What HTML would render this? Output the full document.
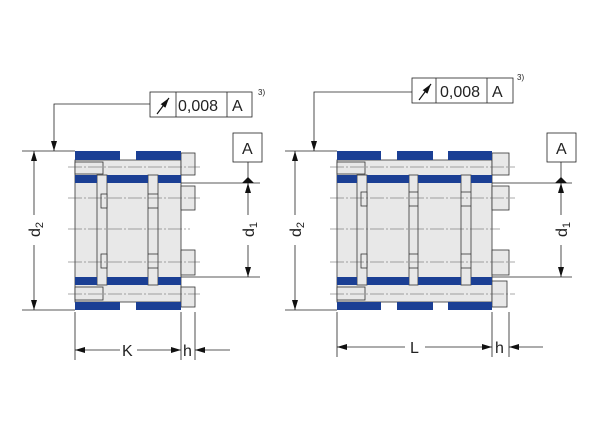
<!DOCTYPE html>
<html><head><meta charset="utf-8"><style>
html,body{margin:0;padding:0;background:#fff}
svg{display:block}
text{font-family:"Liberation Sans",sans-serif;fill:#222}
</style></head><body>
<svg width="600" height="440" viewBox="0 0 600 440" xmlns="http://www.w3.org/2000/svg">
<defs>
<marker id="ar" viewBox="0 0 10 6" refX="10" refY="3" markerWidth="10" markerHeight="6" markerUnits="userSpaceOnUse" orient="auto"><path d="M0,0 L10,3 L0,6z" fill="#111"/></marker>
</defs>
<g stroke="#333" stroke-width="0.8" fill="#e8e8e8">
<!-- LEFT -->
<rect x="75" y="160" width="106" height="142"/>
<rect x="181" y="153" width="14" height="22"/><rect x="181" y="186" width="14" height="24"/>
<rect x="181" y="250" width="14" height="25"/><rect x="181" y="287" width="14" height="20"/>
<rect x="75" y="162" width="28" height="12"/><rect x="75" y="287" width="28" height="13"/>
<rect x="97" y="175" width="10" height="110"/><rect x="148" y="175" width="10" height="110"/>
<rect x="101" y="194" width="6" height="14"/><rect x="101" y="254" width="6" height="14"/>
<line x1="148" y1="194" x2="158" y2="194"/><line x1="148" y1="208" x2="158" y2="208"/>
<line x1="148" y1="254" x2="158" y2="254"/><line x1="148" y1="268" x2="158" y2="268"/>
<!-- RIGHT -->
<rect x="337" y="160" width="155" height="142"/>
<rect x="492" y="153" width="17" height="22"/><rect x="492" y="186" width="17" height="24"/>
<rect x="492" y="250" width="17" height="25"/><rect x="492" y="281" width="15" height="26"/>
<rect x="337" y="162" width="28" height="12"/><rect x="337" y="287" width="28" height="13"/>
<rect x="357" y="175" width="10" height="110"/><rect x="409" y="175" width="9" height="110"/><rect x="461" y="175" width="10" height="110"/>
<rect x="361" y="192" width="6" height="14"/><rect x="361" y="254" width="6" height="14"/>
<line x1="409" y1="192" x2="418" y2="192"/><line x1="409" y1="206" x2="418" y2="206"/>
<line x1="409" y1="254" x2="418" y2="254"/><line x1="409" y1="268" x2="418" y2="268"/>
<line x1="461" y1="192" x2="471" y2="192"/><line x1="461" y1="206" x2="471" y2="206"/>
<line x1="461" y1="254" x2="471" y2="254"/><line x1="461" y1="268" x2="471" y2="268"/>
</g>
<g fill="#1b3f94">
<rect x="75" y="151" width="45" height="9"/><rect x="136" y="151" width="45" height="9"/>
<rect x="75" y="302" width="45" height="8"/><rect x="136" y="302" width="45" height="8"/>
<rect x="75" y="175" width="22" height="8"/><rect x="107" y="175" width="41" height="8"/><rect x="158" y="175" width="23" height="8"/>
<rect x="75" y="277" width="22" height="8"/><rect x="107" y="277" width="41" height="8"/><rect x="158" y="277" width="23" height="8"/>
<rect x="337" y="151" width="44" height="9"/><rect x="397" y="151" width="36" height="9"/><rect x="448" y="151" width="44" height="9"/>
<rect x="337" y="302" width="44" height="8"/><rect x="397" y="302" width="36" height="8"/><rect x="448" y="302" width="44" height="8"/>
<rect x="337" y="175" width="20" height="8"/><rect x="367" y="175" width="42" height="8"/><rect x="418" y="175" width="43" height="8"/><rect x="471" y="175" width="21" height="8"/>
<rect x="337" y="277" width="20" height="8"/><rect x="367" y="277" width="42" height="8"/><rect x="418" y="277" width="43" height="8"/><rect x="471" y="277" width="21" height="8"/>
</g>
<g stroke="#555" stroke-width="0.6" stroke-dasharray="14,2,2,2">
<line x1="68" y1="167" x2="200" y2="167"/><line x1="68" y1="198" x2="200" y2="198"/><line x1="68" y1="229" x2="190" y2="229"/><line x1="68" y1="262" x2="200" y2="262"/><line x1="68" y1="294" x2="200" y2="294"/>
<line x1="330" y1="167" x2="515" y2="167"/><line x1="330" y1="198" x2="515" y2="198"/><line x1="330" y1="229" x2="500" y2="229"/><line x1="330" y1="262" x2="515" y2="262"/><line x1="330" y1="294" x2="515" y2="294"/>
</g>
<g stroke="#222" stroke-width="0.8" fill="none">
<!-- left dims -->
<line x1="22" y1="151" x2="75" y2="151"/><line x1="22" y1="310" x2="75" y2="310"/>
<line x1="34" y1="215" x2="34" y2="151" marker-end="url(#ar)"/><line x1="34" y1="245" x2="34" y2="310" marker-end="url(#ar)"/>
<line x1="181" y1="183" x2="260" y2="183"/><line x1="181" y1="277" x2="260" y2="277"/>
<line x1="248" y1="215" x2="248" y2="183" marker-end="url(#ar)"/><line x1="248" y1="245" x2="248" y2="277" marker-end="url(#ar)"/>
<line x1="248" y1="162" x2="248" y2="178"/>
<rect x="233" y="133" width="29" height="29" fill="#fff"/>
<rect x="150" y="92" width="102" height="25" fill="#fff"/><line x1="176" y1="92" x2="176" y2="117"/><line x1="227" y1="92" x2="227" y2="117"/>
<polyline points="150,104 54,104 54,151" marker-end="url(#ar)"/>
<line x1="75" y1="312" x2="75" y2="360"/><line x1="181" y1="312" x2="181" y2="360"/><line x1="195" y1="312" x2="195" y2="360"/>
<line x1="120" y1="350" x2="75" y2="350" marker-end="url(#ar)"/><line x1="137" y1="350" x2="181" y2="350" marker-end="url(#ar)"/>
<line x1="230" y1="350" x2="195" y2="350" marker-end="url(#ar)"/>
<!-- right dims -->
<line x1="285" y1="151" x2="337" y2="151"/><line x1="285" y1="310" x2="337" y2="310"/>
<line x1="295" y1="215" x2="295" y2="151" marker-end="url(#ar)"/><line x1="295" y1="245" x2="295" y2="310" marker-end="url(#ar)"/>
<line x1="492" y1="183" x2="572" y2="183"/><line x1="492" y1="277" x2="572" y2="277"/>
<line x1="561" y1="215" x2="561" y2="183" marker-end="url(#ar)"/><line x1="561" y1="245" x2="561" y2="277" marker-end="url(#ar)"/>
<line x1="561" y1="162" x2="561" y2="178"/>
<rect x="547" y="133" width="29" height="29" fill="#fff"/>
<rect x="412" y="78" width="101" height="25" fill="#fff"/><line x1="436" y1="78" x2="436" y2="103"/><line x1="487" y1="78" x2="487" y2="103"/>
<polyline points="412,92 314,92 314,151" marker-end="url(#ar)"/>
<line x1="337" y1="312" x2="337" y2="357"/><line x1="492" y1="312" x2="492" y2="357"/><line x1="509" y1="312" x2="509" y2="357"/>
<line x1="405" y1="347" x2="337" y2="347" marker-end="url(#ar)"/><line x1="425" y1="347" x2="492" y2="347" marker-end="url(#ar)"/>
<line x1="543" y1="347" x2="509" y2="347" marker-end="url(#ar)"/>
</g>
<path d="M242,183 L248,177 L254,183z" fill="#111"/><path d="M555,183 L561,177 L567,183z" fill="#111"/>
<!-- tolerance arrows -->
<g stroke="#111" stroke-width="1.2"><line x1="157" y1="114" x2="169" y2="98" marker-end="url(#ar)"/><line x1="419" y1="100" x2="431" y2="84" marker-end="url(#ar)"/></g>
<g font-size="16">
<text x="178" y="111">0,008</text><text x="232" y="111">A</text>
<text x="440" y="97">0,008</text><text x="492" y="97">A</text>
<text x="242" y="154">A</text><text x="556" y="154">A</text>
<text x="122" y="356">K</text><text x="183" y="356">h</text>
<text x="410" y="353">L</text><text x="495" y="353">h</text>
<text transform="translate(40,237) rotate(-90)">d<tspan font-size="11" dy="3">2</tspan></text>
<text transform="translate(254,237) rotate(-90)">d<tspan font-size="11" dy="3">1</tspan></text>
<text transform="translate(301,237) rotate(-90)">d<tspan font-size="11" dy="3">2</tspan></text>
<text transform="translate(567,237) rotate(-90)">d<tspan font-size="11" dy="3">1</tspan></text>
</g>
<g font-size="8"><text x="258" y="95">3)</text><text x="517" y="80">3)</text></g>
</svg>
</body></html>
